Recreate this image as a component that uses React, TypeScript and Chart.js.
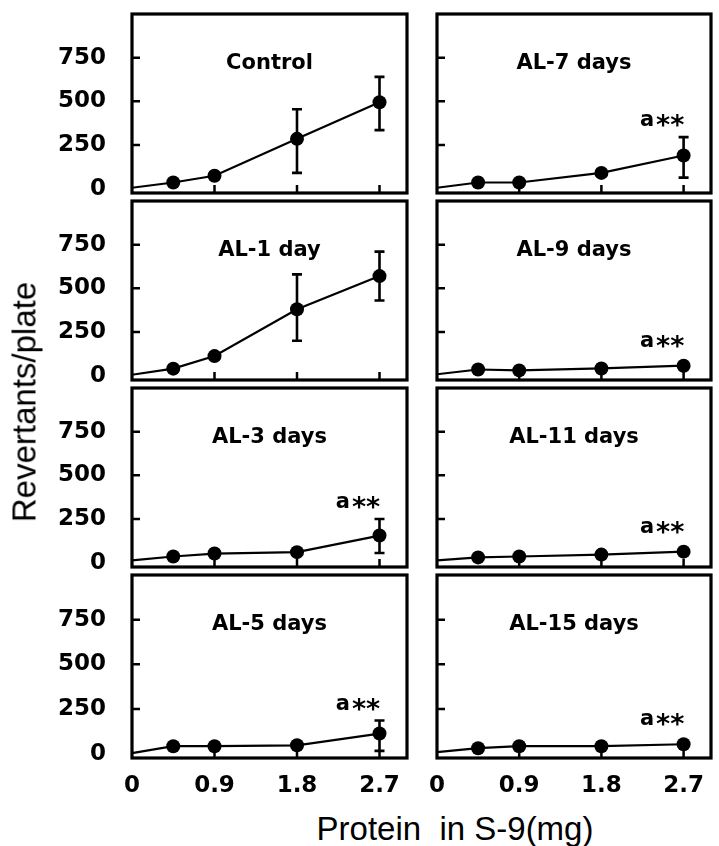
import React, { useEffect, useRef } from "react";
import { Chart, registerables } from "chart.js";

Chart.register(...registerables);

// ---- data ----
const proteinMg = [0, 0.45, 0.9, 1.8, 2.7];
const xTickValues = [0, 0.9, 1.8, 2.7];
const xTickLabels = ["0", "0.9", "1.8", "2.7"];
const yTickValues = [0, 250, 500, 750];
const yTickLabels = ["0", "250", "500", "750"];

const controlMean = [5, 35, 74, 285, 495];
const controlHigh = [null, null, null, 455, 640];
const controlLow = [null, null, null, 90, 335];

const al1Mean = [5, 40, 112, 380, 570];
const al1High = [null, null, null, 580, 710];
const al1Low = [null, null, null, 200, 430];

const al3Mean = [13, 35, 52, 60, 155];
const al3High = [null, null, null, null, 250];
const al3Low = [null, null, null, null, 55];

const al5Mean = [2, 41, 41, 46, 112];
const al5High = [null, null, null, null, 185];
const al5Low = [null, null, null, null, 15];

const al7Mean = [5, 35, 35, 90, 190];
const al7High = [null, null, null, null, 295];
const al7Low = [null, null, null, null, 63];

const al9Mean = [8, 35, 30, 41, 57];
const al11Mean = [13, 30, 35, 46, 63];
const al15Mean = [8, 30, 41, 41, 52];
const noErr = [null, null, null, null, null];

const panelTitles = ["Control", "AL-1 day", "AL-3 days", "AL-5 days", "AL-7 days", "AL-9 days", "AL-11 days", "AL-15 days"];
const panelNotes = ["", "", "a**", "a**", "a**", "a**", "a**", "a**"];

const panels = [
  { col: 0, row: 0, mean: controlMean, high: controlHigh, low: controlLow },
  { col: 0, row: 1, mean: al1Mean, high: al1High, low: al1Low },
  { col: 0, row: 2, mean: al3Mean, high: al3High, low: al3Low },
  { col: 0, row: 3, mean: al5Mean, high: al5High, low: al5Low },
  { col: 1, row: 0, mean: al7Mean, high: al7High, low: al7Low },
  { col: 1, row: 1, mean: al9Mean, high: noErr, low: noErr },
  { col: 1, row: 2, mean: al11Mean, high: noErr, low: noErr },
  { col: 1, row: 3, mean: al15Mean, high: noErr, low: noErr },
];

// ---- layout ----
const PANEL_TOP = 10;
const PANEL_H = 187;
const TICK_FONT = { family: "DejaVu Sans", weight: "bold" as const, size: 23 };

function Panel({ idx }: { idx: number }) {
  const ref = useRef<HTMLCanvasElement>(null);
  const p = panels[idx];
  const isLeft = p.col === 0;
  const isBottom = p.row === 3;
  const canvasLeft = isLeft ? 0 : 419;
  const canvasW = isLeft ? 414 : 300;
  const padRight = isLeft ? 4 : 8;
  const yAxisW = isLeft ? 132 : 18;
  const top = PANEL_TOP + PANEL_H * p.row;
  const canvasTop = top - 3;
  const xAxisH = isBottom ? 46 : 0;
  const padBottom = isBottom ? 0 : 3;
  const canvasH = 3 + PANEL_H + xAxisH + padBottom;

  useEffect(() => {
    const title = panelTitles[idx];
    const note = panelNotes[idx];
    const decor = {
      id: "panelDecor" + idx,
      afterDatasetsDraw(chart: any) {
        const { ctx, chartArea: a, scales } = chart;
        const xs = scales.x;
        const ys = scales.y;
        ctx.save();
        ctx.strokeStyle = "#000";
        ctx.fillStyle = "#000";
        ctx.lineCap = "butt";
        // error bars
        ctx.lineWidth = 2.6;
        p.high.forEach((h: number | null, i: number) => {
          const l = p.low[i];
          if (h == null || l == null) return;
          const px = xs.getPixelForValue(proteinMg[i]);
          const yh = ys.getPixelForValue(h);
          const yl = ys.getPixelForValue(l);
          ctx.beginPath();
          ctx.moveTo(px, yh);
          ctx.lineTo(px, yl);
          ctx.moveTo(px - 5, yh);
          ctx.lineTo(px + 5, yh);
          ctx.moveTo(px - 5, yl);
          ctx.lineTo(px + 5, yl);
          ctx.stroke();
        });
        // frame
        ctx.lineWidth = 3.2;
        ctx.strokeRect(a.left, a.top, a.right - a.left, a.bottom - a.top);
        // inward tick marks
        ctx.lineWidth = 2.5;
        ctx.beginPath();
        yTickValues.forEach((v) => {
          if (v === 0) return;
          const py = ys.getPixelForValue(v);
          ctx.moveTo(a.left, py);
          ctx.lineTo(a.left + 8, py);
        });
        xTickValues.forEach((v) => {
          if (v === 0) return;
          const px = xs.getPixelForValue(v);
          ctx.moveTo(px, a.bottom);
          ctx.lineTo(px, a.bottom - 8);
        });
        ctx.stroke();
        // panel title
        ctx.font = 'bold 21px "DejaVu Sans"';
        ctx.textAlign = "center";
        ctx.textBaseline = "middle";
        ctx.fillText(title, (a.left + a.right) / 2, a.top + 50);
        // significance note
        if (note) {
          const last = p.mean.length - 1;
          const lx = xs.getPixelForValue(proteinMg[last]);
          const ly = ys.getPixelForValue(p.mean[last]) - 8;
          const hv = p.high[last];
          const topPx = Math.min(ly, hv != null ? ys.getPixelForValue(hv) : Infinity);
          const cx = lx - 22;
          const base = topPx - 11;
          const first = note.slice(0, 1);
          const rest = note.slice(1);
          ctx.textBaseline = "alphabetic";
          ctx.textAlign = "left";
          ctx.font = 'bold 21px "DejaVu Sans"';
          const w1 = ctx.measureText(first).width;
          ctx.font = 'bold 27px "DejaVu Sans"';
          const w2 = ctx.measureText(rest).width + 1;
          const x0 = cx - (w1 + w2) / 2;
          ctx.font = 'bold 21px "DejaVu Sans"';
          ctx.fillText(first, x0, base);
          ctx.font = 'bold 27px "DejaVu Sans"';
          ctx.fillText(rest, x0 + w1 + 2, base + 8);
        }
        ctx.restore();
      },
    };

    const chart = new Chart(ref.current as HTMLCanvasElement, {
      type: "line",
      data: {
        datasets: [
          {
            data: proteinMg.map((xv, i) => ({ x: xv, y: p.mean[i] })),
            borderColor: "#000",
            borderWidth: 2.2,
            pointRadius: p.mean.map((_, i) => (i === 0 ? 0 : 7)),
            pointBackgroundColor: "#000",
            pointBorderColor: "#000",
            pointBorderWidth: 0,
            tension: 0,
            clip: false as any,
          },
        ],
      },
      options: {
        animation: false,
        responsive: false,
        events: [],
        layout: { padding: { left: 0, right: padRight, top: 3, bottom: padBottom } },
        plugins: { legend: { display: false }, tooltip: { enabled: false } },
        scales: {
          x: {
            type: "linear",
            min: 0,
            max: 3.0,
            afterBuildTicks: (s: any) => {
              s.ticks = xTickValues.map((v) => ({ value: v }));
            },
            afterFit: (s: any) => {
              s.height = xAxisH;
              s.paddingLeft = 0;
              s.paddingRight = 0;
              s.paddingTop = 0;
              s.paddingBottom = 0;
            },
            ticks: {
              display: isBottom,
              autoSkip: false,
              maxRotation: 0,
              color: "#000",
              padding: 6,
              font: TICK_FONT,
              callback: (v: any) => xTickLabels[xTickValues.indexOf(Number(v))] ?? "",
            },
            grid: { display: false },
            border: { display: false },
          },
          y: {
            type: "linear",
            min: -25,
            max: 1000,
            afterBuildTicks: (s: any) => {
              s.ticks = yTickValues.map((v) => ({ value: v }));
            },
            afterFit: (s: any) => {
              s.width = yAxisW;
              s.paddingLeft = 0;
              s.paddingRight = 0;
              s.paddingTop = 0;
              s.paddingBottom = 0;
            },
            ticks: {
              display: isLeft,
              color: "#000",
              padding: 18,
              font: TICK_FONT,
              callback: (v: any) => yTickLabels[yTickValues.indexOf(Number(v))] ?? "",
            },
            grid: { display: false },
            border: { display: false },
          },
        },
      },
      plugins: [decor],
    } as any);
    return () => chart.destroy();
  }, []);

  return (
    <canvas
      ref={ref}
      width={canvasW}
      height={canvasH}
      style={{ position: "absolute", left: canvasLeft, top: canvasTop, width: canvasW, height: canvasH }}
    />
  );
}

export default function App() {
  return (
    <div style={{ position: "absolute", left: 0, top: 0, width: 719, height: 846, background: "#fff", overflow: "hidden" }}>
      {panels.map((_, i) => (
        <Panel key={i} idx={i} />
      ))}
      <div
        style={{
          position: "absolute",
          left: 24,
          top: 402,
          transform: "translate(-50%, -50%) rotate(-90deg)",
          whiteSpace: "nowrap",
          fontFamily: '"Liberation Sans", Arial, sans-serif',
          fontSize: 33,
          color: "#000",
          lineHeight: 1,
        }}
      >
        Revertants/plate
      </div>
      <div
        style={{
          position: "absolute",
          left: 455,
          top: 828,
          transform: "translate(-50%, -50%)",
          whiteSpace: "pre",
          fontFamily: '"Liberation Sans", Arial, sans-serif',
          fontSize: 33,
          color: "#000",
          lineHeight: 1,
        }}
      >
        {"Protein  in S-9(mg)"}
      </div>
    </div>
  );
}
